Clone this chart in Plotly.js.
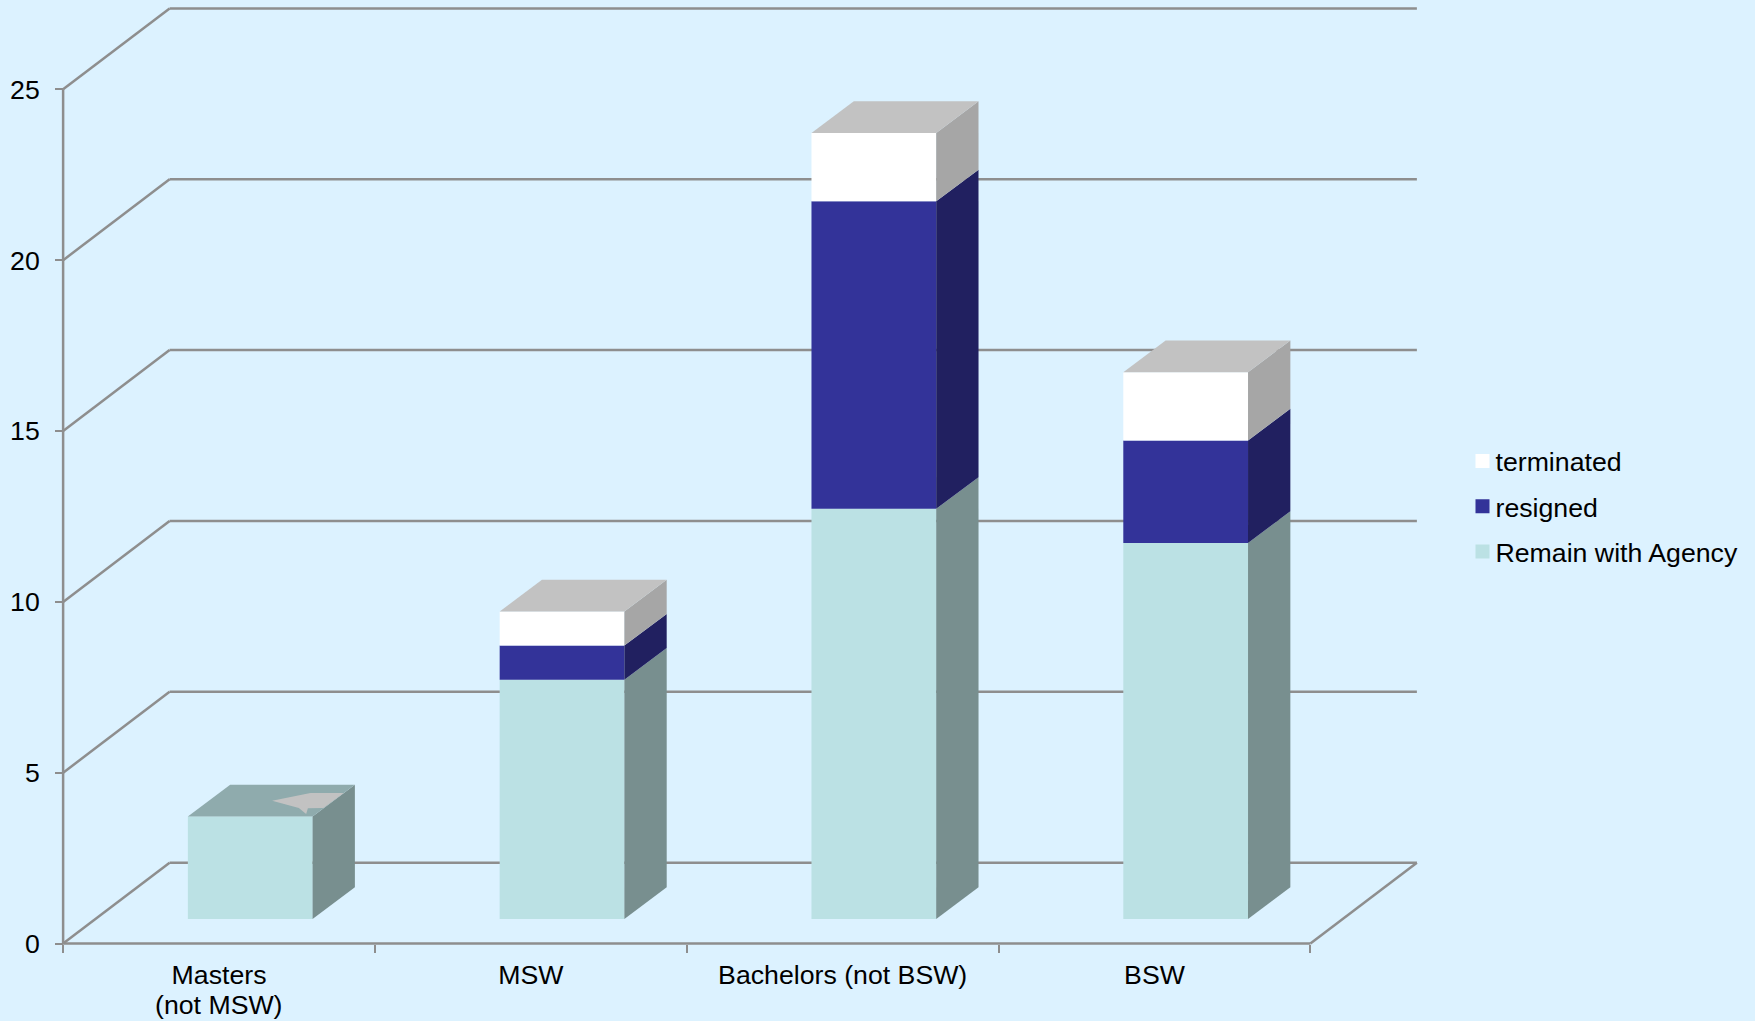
<!DOCTYPE html>
<html>
<head>
<meta charset="utf-8">
<script src="https://cdn.plot.ly/plotly-3.0.1.min.js"></script>
<style>html,body{margin:0;padding:0;background:#dcf2ff;overflow:hidden}</style>
</head>
<body>
<div id="chart" style="width:1755px;height:1021px"></div>
<script>
// Staff outcomes by degree type, stacked bottom to top
const categories = ['Masters', 'MSW', 'Bachelors (not BSW)', 'BSW'];
const categorySublabels = ['(not MSW)', '', '', ''];
const remainWithAgency = [3, 7, 12, 11];
const resigned = [0, 1, 9, 3];
const terminated = [0, 1, 2, 2];
const valueTicks = [0, 5, 10, 15, 20, 25];

const seriesNames = ['Remain with Agency', 'resigned', 'terminated'];
const frontColors = ['#bbe1e4', '#333399', '#ffffff'];
const sideColors = ['#788f8f', '#212060', '#a6a6a6'];
const topColors = ['#8fabad', '#2a2a80', '#c2c2c2'];
const axisColor = '#8e8e8e';
const fontFamily = '"Liberation Sans", Arial, sans-serif';
const fontSize = 26.7;

// Oblique projection of the chart box, in axis units
const wallDx = 0.3415, wallDy = 2.368;     // floor depth
const liftDx = 0.1, liftDy = 0.722;        // front of a bar inside the floor
const barDx = 0.1357, barDy = 0.927;       // depth of a bar
const barWidth = 0.4;
const nCat = categories.length;
const xMax = nCat + wallDx, yMax = 25 + wallDy;
const xPad = 0.01, yPad = 0.1;             // room so edge lines are not clipped

const series = [remainWithAgency, resigned, terminated];
const traces = [];
const shapes = [];
const line = (x0, y0, x1, y1) => ({type: 'line', layer: 'below', x0, y0, x1, y1,
  xref: 'x', yref: 'y', line: {color: axisColor, width: 2.5}});

// Walls and floor
valueTicks.forEach(v => {
  shapes.push(line(0, v, wallDx, v + wallDy));
  shapes.push(line(wallDx, v + wallDy, xMax, v + wallDy));
});
shapes.push(line(0, 0, 0, 25));
shapes.push(line(0, 0, nCat, 0));
shapes.push(line(nCat, 0, xMax, wallDy));

const centers = categories.map((_, i) => i + 0.5);
const barX = centers.map(c => c + liftDx);

// Running base of each stack, starting on the raised floor position
const base = categories.map(() => liftDy);

series.forEach((vals, s) => {
  const starts = base.slice();
  traces.push({type: 'bar', x: barX, y: vals, base: starts, width: barWidth,
    marker: {color: frontColors[s], line: {width: 0}}, showlegend: false, hoverinfo: 'skip'});
  vals.forEach((v, i) => {
    if (v > 0) {
      const xr = barX[i] + barWidth / 2;
      const b = starts[i], t = b + v;
      traces.push({type: 'scatter', mode: 'lines', fill: 'toself', fillcolor: sideColors[s],
        line: {width: 0, color: sideColors[s]}, showlegend: false, hoverinfo: 'skip',
        x: [xr, xr + barDx, xr + barDx, xr, xr],
        y: [b, b + barDy, t + barDy, t, b]});
    }
    base[i] += v;
  });
});

// Caps on each stack, coloured by the uppermost non-empty series
categories.forEach((_, i) => {
  const xl = barX[i] - barWidth / 2, xr = barX[i] + barWidth / 2, t = base[i];
  const s = terminated[i] > 0 ? 2 : resigned[i] > 0 ? 1 : 0;
  traces.push({type: 'scatter', mode: 'lines', fill: 'toself', fillcolor: topColors[s],
    line: {width: 0, color: topColors[s]}, showlegend: false, hoverinfo: 'skip',
    x: [xl, xr, xr + barDx, xl + barDx, xl],
    y: [t, t, t + barDy, t + barDy, t]});
});

// Grey sliver left on the Masters cap by its empty upper segments
const sliverX = [0.6703, 0.7931, 0.9000, 0.8348, 0.7850, 0.7794, 0.7560, 0.6703];
const sliverY = [4.18, 4.41, 4.41, 3.97, 3.96, 3.79, 3.97, 4.18];
traces.push({type: 'scatter', mode: 'lines', fill: 'toself', fillcolor: topColors[2],
  line: {width: 0, color: topColors[2]}, showlegend: false, hoverinfo: 'skip',
  x: sliverX, y: sliverY});

// Legend entries, top to bottom
[2, 1, 0].forEach(s => {
  traces.push({type: 'scatter', mode: 'markers', x: [null], y: [null], name: seriesNames[s],
    legendgroup: seriesNames[s], showlegend: true, hoverinfo: 'skip',
    marker: {symbol: 'square', size: 14, color: frontColors[s], line: {width: 0}}});
});

// Second lines of the category labels
const sublabelAnnotations = categorySublabels.map((text, i) => ({
  text, x: centers[i], xref: 'x', y: -0.0621, yref: 'paper',
  xanchor: 'center', yanchor: 'middle', showarrow: false, borderpad: 0,
  font: {family: fontFamily, size: fontSize, color: '#000000'}
})).filter(a => a.text);

const layout = {
  width: 1755, height: 1021,
  paper_bgcolor: '#dcf2ff', plot_bgcolor: '#dcf2ff',
  margin: {l: 59.58, r: 334.88, t: 4.58, b: 73.58, pad: 0},
  font: {family: fontFamily, size: fontSize, color: '#000000'},
  showlegend: true,
  legend: {x: 1.0261, y: 0.5412, xanchor: 'left', yanchor: 'top', bgcolor: 'rgba(0,0,0,0)',
    borderwidth: 0, traceorder: 'grouped', tracegroupgap: 7.5,
    font: {family: fontFamily, size: fontSize, color: '#000000'}},
  barmode: 'overlay',
  shapes: shapes,
  annotations: sublabelAnnotations,
  xaxis: {
    range: [-xPad, xMax + xPad], showgrid: false, zeroline: false, showline: false, fixedrange: true,
    anchor: 'free', position: yPad / (yMax + 2 * yPad),
    tickmode: 'array', tickvals: centers, ticktext: categories, ticks: '', ticklen: 0,
    ticklabelstandoff: 13, tickangle: 0,
    tickfont: {family: fontFamily, size: fontSize, color: '#000000'},
    minor: {tickmode: 'array', tickvals: [0, 1, 2, 3, 4], ticks: 'outside', ticklen: 8,
      tickwidth: 2, tickcolor: axisColor, showgrid: false}
  },
  yaxis: {
    range: [-yPad, yMax + yPad], showgrid: false, zeroline: false, showline: false, fixedrange: true,
    anchor: 'free', position: xPad / (xMax + 2 * xPad),
    tickmode: 'array', tickvals: valueTicks, ticks: 'outside', ticklen: 8, tickwidth: 2,
    tickcolor: axisColor, ticklabelstandoff: 10,
    tickfont: {family: fontFamily, size: fontSize, color: '#000000'}
  }
};

Plotly.newPlot('chart', traces, layout, {displayModeBar: false, staticPlot: true}).then(() => {
  // Sit the legend swatches closer to their labels
  document.querySelectorAll('#chart .legendsymbols').forEach(g => {
    g.setAttribute('transform', 'translate(7,0)');
  });
});
</script>
</body>
</html>
